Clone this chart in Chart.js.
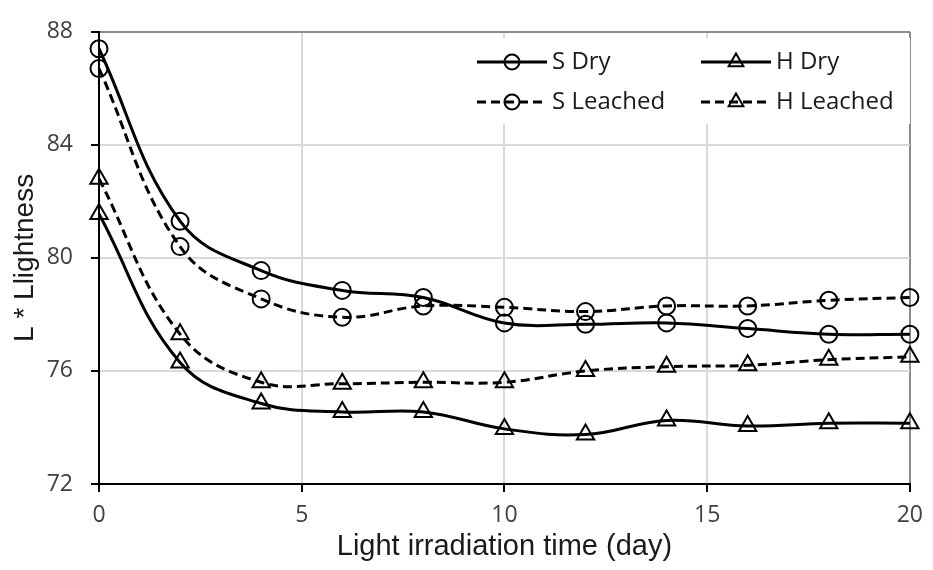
<!DOCTYPE html>
<html>
<head>
<meta charset="utf-8">
<script src="https://cdn.jsdelivr.net/npm/chart.js@4.4.1/dist/chart.umd.min.js"></script>
<style>
  html, body { margin: 0; padding: 0; background: #fff; }
</style>
</head>
<body>
<canvas id="lightChart" width="933" height="570"></canvas>
<script>
// Irradiation time (day) and L* readings
const days = [0, 2, 4, 6, 8, 10, 12, 14, 16, 18, 20];
const sDry = [87.4, 81.3, 79.55, 78.85, 78.6, 77.7, 77.65, 77.7, 77.5, 77.3, 77.3];
const hDry = [81.55, 76.3, 74.85, 74.55, 74.55, 73.95, 73.75, 74.25, 74.05, 74.15, 74.15];
const sLeached = [86.7, 80.4, 78.55, 77.9, 78.3, 78.25, 78.1, 78.3, 78.3, 78.5, 78.6];
const hLeached = [82.8, 77.3, 75.6, 75.55, 75.6, 75.6, 76.0, 76.15, 76.2, 76.4, 76.5];

const xTicks = [0, 5, 10, 15, 20];
const yTicks = [72, 76, 80, 84, 88];

const toPoints = (vals) => vals.map((v, i) => ({ x: days[i], y: v }));

const DASH = [9, 5];

function makeSeries(label, vals, style, dashed) {
    return {
        label: label,
        data: toPoints(vals),
        borderColor: '#000',
        borderWidth: 3,
        borderDash: dashed ? DASH : [],
        pointStyle: style,
        pointRadius: style === 'triangle' ? 10 : 8.5,
        pointBorderWidth: 2,
        pointBorderColor: '#000',
        pointBackgroundColor: 'rgba(0,0,0,0)',
        fill: false,
        tension: 0.4,
        clip: false
    };
}

// 2x2 legend box, Excel style, sitting inside the plot
const boxLegend = {
    id: 'boxLegend',
    afterDraw(chart) {
        const ctx = chart.ctx;
        const cols = [477, 701];
        const rows = [62, 102];
        ctx.save();
        ctx.fillStyle = '#fff';
        ctx.fillRect(465, 38, 445, 86);
        chart.data.datasets.forEach((ds, i) => {
            const x0 = cols[i % 2];
            const y = rows[Math.floor(i / 2)];
            const len = 70;
            ctx.strokeStyle = '#000';
            ctx.lineWidth = 3;
            ctx.setLineDash(ds.borderDash);
            ctx.beginPath();
            ctx.moveTo(x0, y);
            ctx.lineTo(x0 + len, y);
            ctx.stroke();
            ctx.setLineDash([]);
            ctx.lineWidth = 2;
            const cx = x0 + len / 2;
            ctx.beginPath();
            if (ds.pointStyle === 'circle') {
                ctx.arc(cx, y, 7.5, 0, Math.PI * 2);
            } else {
                const r = 8.5;
                ctx.moveTo(cx, y - r);
                ctx.lineTo(cx + r * 0.866, y + r / 2);
                ctx.lineTo(cx - r * 0.866, y + r / 2);
                ctx.closePath();
            }
            ctx.stroke();
            ctx.fillStyle = '#1a1a1a';
            ctx.font = '24px "Open Sans"';
            ctx.textAlign = 'left';
            ctx.textBaseline = 'middle';
            ctx.fillText(ds.label, x0 + len + 5, y);
        });
        ctx.restore();
    }
};

const ctx = document.getElementById('lightChart').getContext('2d');

new Chart(ctx, {
    type: 'line',
    data: {
        datasets: [
            makeSeries('S Dry', sDry, 'circle', false),
            makeSeries('H Dry', hDry, 'triangle', false),
            makeSeries('S Leached', sLeached, 'circle', true),
            makeSeries('H Leached', hLeached, 'triangle', true)
        ]
    },
    options: {
        responsive: false,
        animation: false,
        layout: { padding: { top: 25, right: 18, left: 0, bottom: 0 } },
        plugins: {
            legend: { display: false },
            tooltip: { enabled: false }
        },
        scales: {
            x: {
                type: 'linear',
                min: xTicks[0],
                max: xTicks[xTicks.length - 1],
                afterFit: (scale) => { scale.height = 86; },
                ticks: {
                    stepSize: xTicks[1] - xTicks[0],
                    color: '#404040',
                    font: { family: 'Open Sans', size: 23 },
                    padding: 10,
                    maxRotation: 0
                },
                grid: {
                    color: (c) => c.tick.value === xTicks[xTicks.length - 1] ? '#8c8c8c' : '#d9d9d9',
                    lineWidth: 2,
                    tickColor: '#000',
                    tickLength: 8,
                    tickWidth: 2
                },
                border: { color: '#000', width: 2 },
                title: {
                    display: true,
                    text: 'Light irradiation time (day)',
                    color: '#1a1a1a',
                    font: { family: 'Liberation Sans', size: 29 },
                    padding: { top: 0, bottom: 6 }
                }
            },
            y: {
                min: yTicks[0],
                max: yTicks[yTicks.length - 1],
                afterFit: (scale) => { scale.width = 99; },
                ticks: {
                    stepSize: yTicks[1] - yTicks[0],
                    color: '#404040',
                    font: { family: 'Open Sans', size: 23 },
                    padding: 18
                },
                grid: {
                    color: (c) => c.tick.value === yTicks[yTicks.length - 1] ? '#8c8c8c' : '#d9d9d9',
                    lineWidth: 2,
                    tickColor: '#000',
                    tickLength: 8,
                    tickWidth: 2
                },
                border: { color: '#000', width: 2 },
                title: {
                    display: true,
                    text: 'L * Llightness',
                    color: '#1a1a1a',
                    font: { family: 'Liberation Sans', size: 28 },
                    padding: { top: 8, bottom: 0 }
                }
            }
        }
    },
    plugins: [boxLegend]
});
</script>
</body>
</html>
